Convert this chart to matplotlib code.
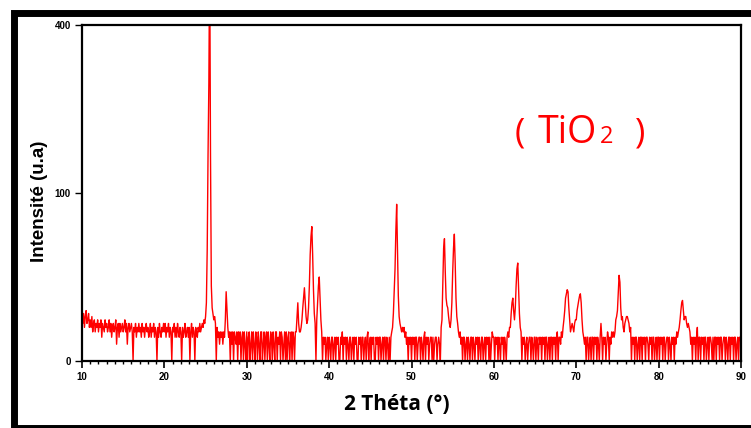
import numpy as np
import matplotlib
matplotlib.use('Agg')
import matplotlib.pyplot as plt
from matplotlib.patches import Rectangle
from matplotlib.ticker import MultipleLocator, NullLocator

# XRD scan: 2-theta from 10 to 90 deg, 0.1 deg step
two_theta_start = 10.0
two_theta_step = 0.1

intensity_10s = [7,5,8,4,7,9,5,6,8,4,
                 6,4,7,3,5,6,3,5,4,6,
                 3,5,4,6,2,5,4,3,6,4,
                 5,3,4,6,3,5,2,4,5,3,
                 4,6,1,4,5,2,5,3,4,5,
                 3,4,6,3,5,1,4,5,3,4,
                 5,3,0,4,3,5,2,4,3,5,
                 3,4,2,5,3,4,2,4,5,3,
                 4,2,3,5,2,4,3,5,2,4,
                 3,0,4,2,5,3,2,4,3,5]
intensity_20s = [3,5,2,4,3,5,2,4,3,0,
                 4,3,5,2,4,2,5,3,2,4,
                 3,0,4,2,3,5,2,3,4,2,
                 4,0,3,5,2,4,3,0,4,3,
                 2,4,3,5,3,4,5,4,6,5,
                 7,12,44,150,273,600,149,20,10,8,
                 6,7,5,0,4,2,3,1,3,2,
                 3,1,3,2,6,17,9,4,2,3,
                 0,3,1,3,0,3,2,1,3,0,
                 3,1,3,0,2,3,0,3,1,0]
intensity_30s = [3,0,2,3,0,1,3,0,3,1,
                 0,3,2,0,3,1,0,3,3,0,
                 1,3,0,2,3,0,3,1,0,3,
                 2,0,3,1,0,3,3,0,2,1,
                 3,0,3,2,0,1,3,0,3,0,
                 2,3,0,1,3,0,3,2,0,3,
                 3,7,12,5,3,3,4,6,10,14,
                 19,12,7,5,6,10,20,40,55,64,
                 40,18,8,5,0,6,12,20,25,14,
                 6,3,0,2,1,2,0,1,2,0]
intensity_40s = [2,1,0,2,2,0,1,2,0,2,
                 1,2,0,0,2,1,3,0,2,1,
                 2,0,2,1,0,2,2,0,1,2,
                 0,2,1,2,0,0,2,1,2,0,
                 2,2,0,1,2,0,2,3,0,1,
                 2,0,2,1,2,0,0,2,1,2,
                 0,2,2,0,1,2,0,2,2,0,
                 2,1,0,2,0,2,3,4,8,17,
                 30,60,87,45,15,7,5,4,3,4,
                 3,4,2,3,1,2,0,2,1,2]
intensity_50s = [0,2,1,2,0,2,2,0,1,2,
                 2,0,2,1,0,2,3,0,2,1,
                 2,0,1,2,2,0,2,0,1,2,
                 2,0,1,2,1,0,4,6,20,45,
                 53,28,14,11,10,7,5,4,6,12,
                 28,45,57,35,14,7,5,3,2,3,
                 1,2,0,2,2,0,1,2,0,2,
                 1,0,2,2,0,2,1,0,2,1,
                 2,0,2,1,0,2,2,0,1,2,
                 0,2,1,2,0,2,0,1,3,2]
intensity_60s = [2,0,2,1,2,0,2,1,0,2,
                 1,2,0,2,1,0,2,3,2,4,
                 4,8,12,14,9,6,10,20,30,34,
                 18,8,4,3,0,2,1,2,0,1,
                 2,0,1,2,2,0,2,1,0,2,
                 2,0,2,1,0,2,1,2,0,2,
                 1,2,0,2,2,0,1,2,0,2,
                 2,0,2,1,2,0,2,3,0,2,
                 2,1,3,2,4,6,9,14,16,18,
                 17,10,6,3,4,5,4,3,5,6]
intensity_70s = [6,9,11,13,15,16,12,6,3,2,
                 1,2,0,2,2,0,1,2,0,2,
                 2,0,2,1,2,0,2,1,0,2,
                 5,2,0,2,1,2,0,1,3,2,
                 0,2,1,3,2,3,2,3,6,7,
                 9,16,26,22,10,6,7,4,3,5,
                 6,7,7,6,5,3,4,0,2,1,
                 2,0,2,2,0,1,2,0,2,2,
                 0,2,1,2,0,2,2,1,0,2,
                 1,2,0,2,2,0,1,2,0,2]
intensity_80s = [2,0,2,1,2,0,2,2,0,1,
                 2,2,0,2,1,0,2,1,2,0,
                 2,1,3,2,3,4,6,9,12,13,
                 9,6,7,7,5,4,5,4,3,1,
                 2,0,2,1,2,0,2,4,0,2,
                 2,0,2,1,2,0,2,2,0,1,
                 2,0,2,2,1,0,2,0,2,2,
                 0,2,1,2,0,2,2,0,1,2,
                 2,0,2,1,0,2,2,0,2,1,
                 2,0,2,2,0,1,2,0,2,2,
                 1]

x_ticks = [10, 20, 30, 40, 50, 60, 70, 80, 90]
y_ticks = [0, 100, 400]

intensity = np.array(intensity_10s + intensity_20s + intensity_30s + intensity_40s +
                     intensity_50s + intensity_60s + intensity_70s + intensity_80s, dtype=float)
two_theta = np.round(two_theta_start + two_theta_step * np.arange(len(intensity)), 2)

W, H = 751, 428
fig = plt.figure(figsize=(W / 100, H / 100), dpi=100)
ax = fig.add_axes([82 / W, (H - 361) / H, 659 / W, 336 / H])

ax.plot(two_theta, intensity, color='#ff0000', lw=1.0)

def fwd(v):
    return np.sqrt(np.clip(v, 0, None))

def inv(v):
    return np.square(v)

ax.set_yscale('function', functions=(fwd, inv))
ax.set_xlim(10, 90)
ax.set_ylim(0, 400)
ax.set_xticks(x_ticks)
ax.set_yticks(y_ticks)
ax.xaxis.set_minor_locator(MultipleLocator(1))
ax.yaxis.set_minor_locator(NullLocator())

narrow = ['Liberation Sans Narrow', 'Liberation Sans', 'DejaVu Sans']
for lab in ax.get_xticklabels() + ax.get_yticklabels():
    lab.set_fontfamily(narrow)
    lab.set_fontweight('bold')
    lab.set_fontsize(7)
ax.tick_params(axis='x', which='major', direction='out', length=5, width=1.2, pad=3)
ax.tick_params(axis='x', which='minor', direction='out', length=2.5, width=1.0)
ax.tick_params(axis='y', which='major', direction='out', length=5, width=1.0, pad=3)
for s in ax.spines.values():
    s.set_linewidth(1.6)
    s.set_color('black')

# outer frame
frame = Rectangle((13.5 / W, 0), 1.2, (H - 12.5) / H, transform=fig.transFigure,
                  fill=False, lw=5.0, edgecolor='black', clip_on=False)
fig.add_artist(frame)

fig.text(397 / W, 1 - 410 / H, '2 Théta (°)', ha='center', va='baseline',
         fontsize=15, fontweight='bold', family=['Open Sans', 'DejaVu Sans'])
fig.text(39 / W, 1 - 201 / H, 'Intensité (u.a)', rotation=90, ha='center', va='center',
         fontsize=13.5, fontweight='bold', family=narrow)

red_font = ['Open Sans', 'DejaVu Sans']
fig.text(520 / W, 1 - 143 / H, '(', ha='center', va='baseline', fontsize=25,
         color='#ff0000', family=red_font)
fig.text(538 / W, 1 - 143 / H, 'TiO', ha='left', va='baseline', fontsize=27,
         color='#ff0000', family=red_font)
fig.text(600 / W, 1 - 143 / H, '2', ha='left', va='baseline', fontsize=17,
         color='#ff0000', family=red_font)
fig.text(640.5 / W, 1 - 143 / H, ')', ha='center', va='baseline', fontsize=25,
         color='#ff0000', family=red_font)

fig.savefig('out.png', dpi=100)
